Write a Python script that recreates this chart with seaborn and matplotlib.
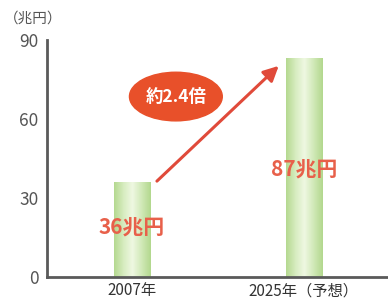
import numpy as np
import pandas as pd
import seaborn as sns
import matplotlib.pyplot as plt
from matplotlib.patches import Ellipse
from matplotlib.colors import LinearSegmentedColormap

# data
years = ["2007年", "2025年（予想）"]
bar_heights = [36, 83]
value_labels = ["36兆円", "87兆円"]
ratio_label = "約2.4倍"
unit_label = "（兆円）"
y_ticks = [0, 30, 60, 90]

sns.set_style("white")
plt.rcParams["font.family"] = ["Noto Sans CJK JP", "DejaVu Sans"]

df = pd.DataFrame({"year": years, "value": bar_heights})

fig = plt.figure(figsize=(3.88, 3.01), dpi=100)
ax = fig.add_axes([0.121, 0.081, 0.879, 0.786])

sns.barplot(data=df, x="year", y="value", ax=ax, width=0.21,
            color="#c6e3a8", edgecolor="none")

# horizontal gradient inside the bars
cmap = LinearSegmentedColormap.from_list(
    "g", ["#b5d990", "#d6ecbf", "#eff8e2", "#d1e9b8", "#b3d88e"])
grad = np.linspace(0, 1, 64).reshape(1, -1)
for p in ax.patches:
    x0, y0 = p.get_x(), p.get_y()
    w, h = p.get_width(), p.get_height()
    im = ax.imshow(grad, cmap=cmap, aspect="auto",
                   extent=[x0, x0 + w, y0, y0 + h], zorder=2)
    im.set_clip_path(p)

ax.set_xlim(-0.494, 1.49)
ax.set_ylim(0, 90)
ax.set_yticks(y_ticks)
ax.set_xlabel("")
ax.set_ylabel("")

for s in ["top", "right"]:
    ax.spines[s].set_visible(False)
for s in ["left", "bottom"]:
    ax.spines[s].set_color("#5a5a5a")
    ax.spines[s].set_linewidth(2)

ax.tick_params(axis="y", direction="in", length=6, width=1.5,
               color="#5a5a5a", labelcolor="#555555", labelsize=12.5, pad=6)
ax.tick_params(axis="x", length=0, labelcolor="#333333", labelsize=11, pad=4)

# value labels
ax.text(0, 18.5, value_labels[0], color="#e8604a", fontsize=15,
        fontweight="bold", ha="center", va="center", zorder=5)
ax.text(1.0, 40.6, value_labels[1], color="#e8604a", fontsize=15,
        fontweight="bold", ha="center", va="center", zorder=5)

# arrow
ax.annotate("", xy=(0.866, 80.9), xytext=(0.134, 35.6),
            arrowprops=dict(arrowstyle="-|>,head_length=0.9,head_width=0.45",
                            color="#e04a3a", lw=2.2),
            zorder=4, annotation_clip=False)

# ratio bubble
ell = Ellipse((0.256, 68.5), 0.54, 18.5, color="#e8502a", zorder=5,
              clip_on=False)
ax.add_patch(ell)
ax.text(0.256, 68.5, ratio_label, color="white", fontsize=12.5,
        fontweight="bold", ha="center", va="center", zorder=6)

fig.text(0.01, 1 - 19 / 301, unit_label, color="#555555", fontsize=10.5,
         ha="left", va="center")

fig.savefig("out.png", dpi=100)
